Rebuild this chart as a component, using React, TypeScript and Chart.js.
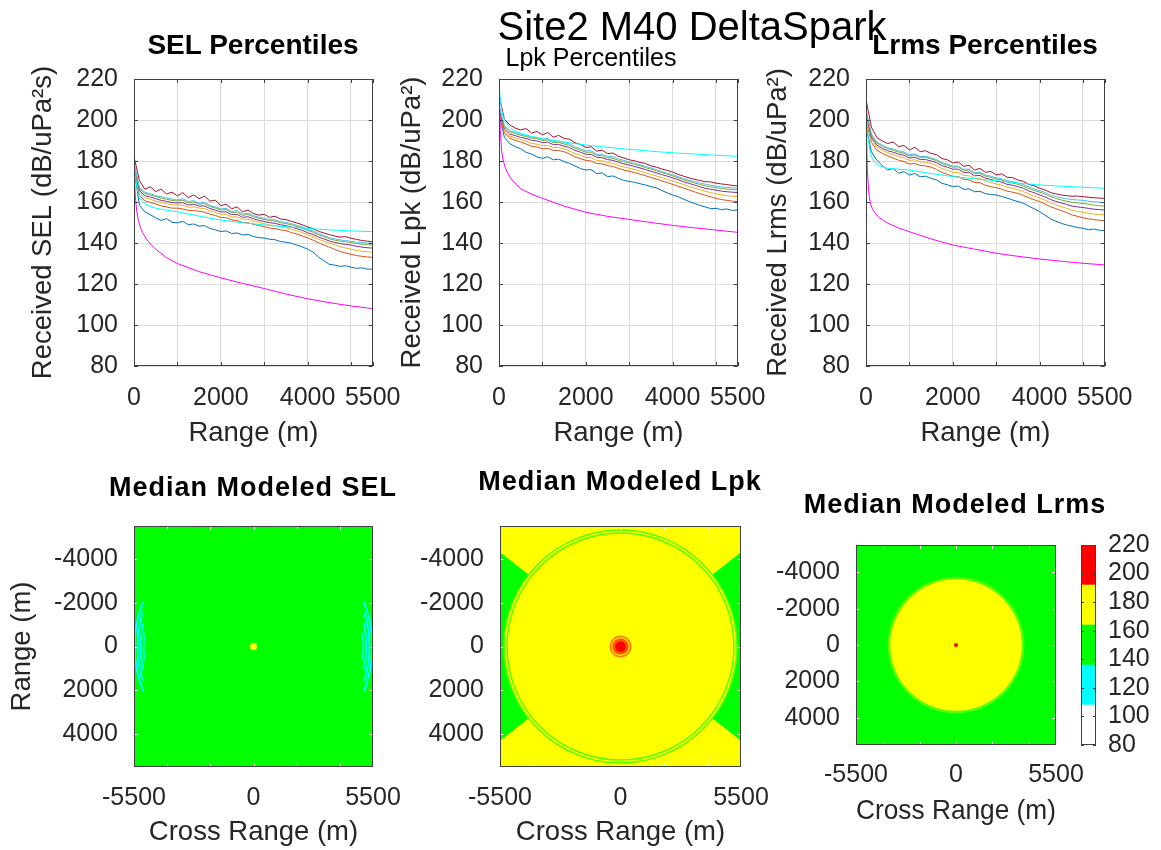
import React, { useEffect, useRef } from 'react';
import { Chart, registerables } from 'chart.js';

Chart.register(...registerables);

const FONT = "'Liberation Sans', Arial, Helvetica, sans-serif";
const TEXT = '#262626';
const GRID = '#dcdcdc';
const FRAME = '#404040';
Chart.defaults.font.family = FONT;

// ---------- shared axes ----------
const RANGE = [0, 125, 250, 375, 500, 625, 750, 875, 1000, 1125, 1250, 1375, 1500, 1625, 1750, 1875, 2000, 2125, 2250, 2375, 2500, 2625, 2750, 2875, 3000, 3125, 3250, 3375, 3500, 3625, 3750, 3875, 4000, 4125, 4250, 4375, 4500, 4625, 4750, 4875, 5000, 5125, 5250, 5375, 5500];
const MODEL_RANGE = [10, 30, 60, 100, 150, 200, 300, 400, 500, 750, 1000, 1500, 2000, 2500, 3000, 3500, 4000, 4500, 5000, 5500];
const RANGE_GRID_TICKS = [0, 1000, 2000, 3000, 4000, 5000, 5500];
const RANGE_TICK_LABELS = [0, 2000, 4000, 5500];
const LEVEL_TICKS = [80, 100, 120, 140, 160, 180, 200, 220];
const MAP_X_TICKS = [-5500, 0, 5500];
const MAP_Y_TICKS = [-4000, -2000, 0, 2000, 4000];
const MAP_MINOR_TICKS = [-4000, -2000, 0, 2000, 4000];

// ---------- SEL percentiles (lowest P1 to highest P7) ----------
const SEL_P1 = [176, 158.5, 155.2, 153.8, 152.3, 151.0, 151.9, 150.1, 149.8, 150.6, 148.9, 149.3, 148.2, 148.5, 147.1, 146.4, 145.6, 145.9, 144.6, 144.9, 143.9, 144.2, 143.2, 142.6, 142.4, 141.8, 141.6, 140.7, 140.4, 139.9, 139.0, 138.1, 137.0, 135.6, 133.2, 131.4, 129.6, 129.2, 128.6, 128.9, 128.2, 127.6, 127.9, 127.3, 127.2];
const SEL_P2 = [175, 163.1, 160.6, 159.8, 159.0, 158.1, 157.6, 157.0, 157.0, 156.6, 155.9, 155.8, 155.5, 155.0, 154.1, 153.4, 152.5, 152.3, 151.2, 151.0, 150.0, 149.9, 149.1, 148.5, 148.0, 147.3, 147.0, 146.4, 146.0, 145.1, 144.4, 143.5, 142.5, 141.4, 140.1, 139.0, 138.0, 136.9, 135.9, 135.1, 134.5, 133.9, 133.5, 133.2, 133.0];
const SEL_P3 = [176, 164.6, 162.1, 161.4, 160.5, 159.7, 159.2, 158.6, 158.5, 158.4, 157.4, 157.6, 157.0, 156.8, 155.7, 155.0, 154.0, 154.0, 152.7, 152.8, 151.5, 151.6, 150.7, 150.0, 149.5, 148.8, 148.5, 147.9, 147.5, 146.7, 146.0, 145.1, 144.0, 143.1, 141.8, 140.9, 140.0, 139.1, 138.2, 137.6, 137.0, 136.4, 136.0, 135.7, 135.5];
const SEL_P4 = [177, 165.6, 163.1, 162.5, 161.6, 160.8, 160.3, 159.7, 159.5, 159.7, 158.5, 158.9, 158.0, 158.1, 156.8, 156.1, 155.1, 155.2, 153.8, 154.0, 152.5, 152.8, 151.8, 151.0, 150.5, 149.9, 149.6, 148.9, 148.5, 147.8, 147.0, 146.2, 145.0, 144.2, 142.9, 142.0, 141.0, 140.3, 139.7, 139.3, 139.0, 138.4, 138.0, 137.7, 137.5];
const SEL_P5 = [178, 166.6, 164.2, 163.5, 162.6, 161.9, 161.3, 160.8, 160.5, 160.9, 159.6, 160.0, 159.0, 159.2, 157.8, 157.1, 156.1, 156.3, 154.8, 155.1, 153.5, 153.9, 152.8, 152.0, 151.5, 150.9, 150.7, 149.9, 149.5, 148.9, 148.0, 147.3, 146.1, 145.3, 144.0, 143.1, 142.1, 141.4, 140.9, 140.6, 140.2, 139.7, 139.4, 139.2, 139.0];
const SEL_P6 = [179, 167.2, 164.8, 164.0, 163.1, 162.5, 162.0, 161.4, 161.0, 161.6, 160.2, 160.7, 159.4, 159.9, 158.3, 157.6, 156.6, 156.9, 155.3, 155.8, 154.1, 154.5, 153.4, 152.6, 152.1, 151.5, 151.3, 150.4, 150.0, 149.5, 148.6, 147.9, 146.6, 145.9, 144.6, 143.7, 142.6, 142.1, 141.5, 141.2, 140.8, 140.4, 140.2, 140.0, 139.8];
const SEL_P7 = [182, 170.5, 166.2, 167.4, 165.1, 166.3, 163.9, 164.8, 163.0, 164.6, 162.1, 163.5, 161.6, 162.9, 160.4, 160.9, 158.2, 158.9, 156.7, 157.6, 155.2, 156.1, 154.4, 153.6, 154.0, 152.5, 153.1, 151.7, 151.4, 150.6, 149.8, 148.9, 147.8, 147.0, 145.7, 144.9, 144.1, 143.4, 142.9, 143.1, 142.3, 141.8, 141.2, 140.9, 140.6];
const SEL_MODEL_CYAN = [178, 173, 168, 164.5, 162, 160.3, 158.6, 157.6, 157, 156, 155.2, 153.1, 151.2, 149.9, 148.8, 147.9, 147.1, 146.4, 145.9, 145.5];
const SEL_MODEL_MAGENTA = [172, 163, 156, 151, 147.5, 145, 141.5, 139, 137, 132.8, 130, 126, 123, 120.3, 117.8, 115.1, 112.8, 110.9, 109.3, 108];

// ---------- Lpk percentiles ----------
const LPK_P1 = [203, 191.5, 188.4, 187.0, 186.0, 184.2, 183.4, 182.0, 181.3, 182.1, 180.6, 180.9, 179.7, 178.8, 177.6, 176.3, 175.6, 175.8, 173.9, 174.2, 172.4, 172.7, 171.6, 170.5, 170.0, 169.6, 168.9, 168.3, 167.5, 166.9, 165.6, 164.5, 163.4, 162.6, 161.4, 160.3, 159.3, 158.4, 157.6, 156.8, 156.9, 156.3, 156.6, 155.9, 156.1];
const LPK_P2 = [203, 193.6, 191.1, 190.1, 189.3, 188.3, 187.2, 186.8, 186.0, 186.1, 185.2, 185.1, 184.5, 183.4, 182.0, 181.2, 180.3, 180.0, 178.8, 178.6, 177.8, 177.3, 176.4, 175.6, 175.0, 174.3, 173.6, 172.8, 172.0, 171.2, 170.3, 169.5, 168.6, 167.7, 166.8, 165.9, 165.0, 164.1, 163.3, 162.5, 161.8, 161.2, 160.8, 160.4, 160.2];
const LPK_P3 = [204, 194.6, 192.1, 191.3, 190.5, 189.6, 188.6, 188.2, 187.5, 187.6, 186.6, 186.6, 186.0, 184.9, 183.6, 182.8, 181.8, 181.6, 180.3, 180.1, 179.3, 178.8, 177.9, 177.1, 176.5, 175.8, 175.1, 174.3, 173.5, 172.7, 171.9, 171.1, 170.3, 169.4, 168.5, 167.6, 166.8, 166.0, 165.2, 164.6, 164.0, 163.5, 163.1, 162.8, 162.6];
const LPK_P4 = [205, 195.6, 193.1, 192.4, 191.5, 191.0, 190.1, 189.8, 189.0, 189.2, 188.0, 188.0, 187.3, 186.5, 185.2, 184.3, 183.3, 183.2, 181.8, 181.6, 180.7, 180.3, 179.4, 178.6, 178.0, 177.3, 176.6, 175.8, 175.0, 174.2, 173.4, 172.6, 171.8, 170.9, 169.9, 169.1, 168.3, 167.5, 166.7, 166.2, 165.8, 165.3, 165.0, 164.8, 164.6];
const LPK_P5 = [206, 196.6, 194.2, 193.4, 192.5, 192.0, 191.1, 190.9, 190.0, 190.3, 189.0, 189.1, 188.3, 187.6, 186.2, 185.3, 184.3, 184.3, 182.7, 182.6, 181.6, 181.3, 180.3, 179.6, 179.0, 178.3, 177.6, 176.8, 176.0, 175.2, 174.4, 173.6, 172.8, 171.9, 170.9, 170.1, 169.3, 168.6, 167.9, 167.4, 167.0, 166.6, 166.3, 166.1, 165.9];
const LPK_P6 = [207, 197.2, 194.7, 194.0, 193.1, 192.6, 191.7, 191.5, 190.6, 190.9, 189.6, 189.8, 189.0, 188.3, 186.9, 186.0, 185.0, 185.0, 183.3, 183.4, 182.3, 182.1, 181.0, 180.3, 179.6, 178.9, 178.2, 177.4, 176.6, 175.8, 174.9, 174.1, 173.3, 172.4, 171.5, 170.7, 170.0, 169.3, 168.7, 168.2, 167.8, 167.4, 167.1, 166.9, 166.7];
const LPK_P7 = [212, 200.4, 197.6, 196.0, 195.2, 195.8, 193.6, 194.4, 192.8, 193.9, 191.6, 192.5, 191.0, 190.6, 188.9, 188.1, 186.6, 186.9, 184.8, 185.3, 183.6, 183.9, 182.3, 181.5, 180.6, 180.1, 179.3, 178.8, 177.6, 177.0, 176.1, 175.4, 174.6, 173.5, 172.6, 171.8, 171.1, 170.5, 169.9, 169.8, 169.2, 168.8, 168.5, 168.1, 167.8];
const LPK_MODEL_CYAN = [215, 210, 205, 201.5, 199, 197.5, 195.5, 194.3, 193.5, 192, 190.8, 189.2, 187.8, 186.7, 185.7, 184.8, 184, 183.4, 182.8, 182.3];
const LPK_MODEL_MAGENTA = [208, 195, 185, 180, 176.5, 174, 170.8, 168.5, 166.5, 163.8, 161.8, 158, 155, 153, 151.5, 150, 148.6, 147.4, 146.3, 145.2];

// ---------- Lrms percentiles ----------
const LRMS_P1 = [197, 184.5, 180.3, 177.8, 175.6, 176.4, 174.0, 174.8, 173.2, 173.9, 172.3, 172.6, 171.5, 170.8, 169.1, 168.4, 167.5, 167.8, 166.2, 166.4, 165.0, 165.2, 164.1, 163.6, 163.4, 162.7, 161.9, 161.0, 160.2, 159.4, 158.0, 156.7, 155.3, 153.6, 151.8, 150.6, 149.6, 148.8, 148.2, 147.5, 147.2, 146.5, 146.8, 146.2, 146.0];
const LRMS_P2 = [200, 189.1, 185.2, 183.7, 182.5, 181.4, 180.4, 179.7, 178.5, 178.8, 177.8, 177.6, 177.0, 175.9, 174.4, 173.5, 172.5, 172.4, 171.0, 170.8, 169.5, 169.4, 168.2, 167.5, 167.0, 166.3, 165.3, 164.8, 164.2, 163.2, 162.1, 161.1, 160.2, 159.0, 157.7, 156.7, 155.8, 154.8, 153.7, 153.0, 152.3, 151.8, 151.4, 151.1, 150.9];
const LRMS_P3 = [202, 190.6, 186.7, 185.2, 184.0, 183.1, 182.2, 181.5, 180.3, 180.6, 179.5, 179.4, 178.8, 177.8, 176.3, 175.5, 174.5, 174.4, 172.9, 172.8, 171.5, 171.5, 170.2, 169.5, 168.8, 168.2, 167.2, 166.7, 166.0, 165.1, 163.9, 162.9, 162.0, 160.9, 159.6, 158.6, 157.8, 156.9, 156.0, 155.4, 155.0, 154.5, 154.1, 153.9, 153.7];
const LRMS_P4 = [203, 191.6, 187.7, 186.2, 185.0, 184.3, 183.4, 182.8, 181.5, 181.8, 180.7, 180.7, 180.0, 179.2, 177.7, 177.0, 176.0, 176.0, 174.4, 174.5, 172.8, 173.0, 171.6, 171.0, 170.2, 169.7, 168.6, 168.2, 167.5, 166.7, 165.4, 164.5, 163.5, 162.5, 161.2, 160.3, 159.5, 158.8, 158.0, 157.6, 157.3, 156.9, 156.5, 156.3, 156.1];
const LRMS_P5 = [204, 192.6, 188.7, 187.2, 186.0, 185.3, 184.4, 183.8, 182.5, 182.9, 181.7, 181.8, 181.0, 180.2, 178.7, 178.0, 177.0, 177.1, 175.4, 175.6, 173.8, 174.1, 172.6, 172.0, 171.2, 170.8, 169.7, 169.3, 168.6, 167.8, 166.6, 165.7, 164.8, 163.9, 162.6, 161.7, 161.0, 160.4, 159.8, 159.5, 159.3, 158.9, 158.5, 158.2, 158.0];
const LRMS_P6 = [205, 193.2, 189.2, 187.8, 186.5, 185.9, 185.0, 184.4, 183.0, 183.5, 182.2, 182.3, 181.5, 180.7, 179.2, 178.5, 177.5, 177.6, 175.9, 176.1, 174.3, 174.6, 173.1, 172.6, 171.8, 171.4, 170.4, 170.0, 169.3, 168.5, 167.3, 166.4, 165.5, 164.7, 163.4, 162.6, 162.0, 161.6, 161.2, 161.0, 160.8, 160.4, 160.1, 159.9, 159.7];
const LRMS_P7 = [210, 196.5, 191.4, 189.8, 188.5, 189.3, 187.0, 187.6, 185.4, 186.7, 184.6, 185.0, 183.7, 183.1, 181.2, 180.6, 179.0, 179.5, 177.4, 177.9, 175.6, 176.4, 174.5, 174.9, 173.2, 173.7, 172.1, 171.9, 170.7, 170.1, 168.6, 167.9, 166.7, 165.9, 164.6, 164.0, 163.4, 163.1, 162.8, 162.9, 162.6, 162.3, 162.1, 161.9, 161.8];
const LRMS_MODEL_CYAN = [205, 196, 189, 184, 181, 179.3, 177.8, 177, 176.5, 176, 175.6, 173.9, 172.4, 171.3, 170.4, 169.3, 168.3, 167.7, 167.2, 166.7];
const LRMS_MODEL_MAGENTA = [195, 176, 165, 159.5, 156.5, 154.8, 152.5, 151, 149.7, 147.3, 145.5, 142, 139, 137, 135, 133.5, 132.2, 131.1, 130.1, 129.3];

// ---------- median modeled maps (levels in dB, radii in m) ----------
const SEL_MAP_BASE = 150;
const SEL_MAP_DISCS = [{ radius: 165, level: 182 }];
const SEL_MAP_ARCS = [
  { radius: 5470, halfAngle: 22, level: 128 },
  { radius: 5330, halfAngle: 17, level: 131 },
  { radius: 5190, halfAngle: 12, level: 133 },
  { radius: 5060, halfAngle: 7, level: 134 },
];
const LPK_MAP_BASE = 175;
const LPK_MAP_WEDGES = [{ inner: 5330, outer: 9000, halfAngle: 38, level: 150 }];
const LPK_MAP_RINGS = [{ radius: 5180, level: 163 }, { radius: 5320, level: 163 }];
const LPK_MAP_DISCS = [
  { radius: 500, level: 192 },
  { radius: 430, level: 190 },
  { radius: 370, level: 193 },
  { radius: 240, level: 206 },
];
const LRMS_MAP_BASE = 150;
const LRMS_MAP_DISCS = [
  { radius: 3760, level: 163 },
  { radius: 3620, level: 176 },
  { radius: 110, level: 206 },
];

// ---------- colour bar ----------
const COLORBAR_EDGES = [80, 108, 136, 164, 192, 220];
const COLORBAR_COLORS = ['#FFFFFF', '#00FFFF', '#00FF00', '#FFFF00', '#FF0000'];

const LINE_COLORS = ['#0072BD', '#D95319', '#EDB120', '#7E2F8E', '#77AC30', '#4DBEEE', '#A2142F'];
const CYAN = '#00FFFF';
const MAGENTA = '#FF00FF';

function hexToRgb(h: string) {
  const n = parseInt(h.slice(1), 16);
  return [(n >> 16) & 255, (n >> 8) & 255, n & 255];
}
function mix(a: string, b: string, t: number) {
  const A = hexToRgb(a), B = hexToRgb(b);
  const c = A.map((v, i) => Math.round(v + (B[i] - v) * t));
  return `rgb(${c[0]},${c[1]},${c[2]})`;
}
function levelColor(level: number) {
  for (let i = 1; i < COLORBAR_EDGES.length - 1; i++) {
    const e = COLORBAR_EDGES[i];
    if (Math.abs(level - e) < 3) return mix(COLORBAR_COLORS[i - 1], COLORBAR_COLORS[i], (level - e + 3) / 6);
  }
  for (let i = 0; i < COLORBAR_COLORS.length; i++) {
    if (level < COLORBAR_EDGES[i + 1]) return COLORBAR_COLORS[i];
  }
  return COLORBAR_COLORS[COLORBAR_COLORS.length - 1];
}

const pts = (xs: number[], ys: number[]) => xs.map((x, i) => ({ x, y: ys[i] }));

function makeFrame(xTicks: number[], yTicks: number[], tickColor: string, tickLen = 5) {
  return {
    id: 'frame',
    afterDatasetsDraw(chart: any) {
      const { ctx, chartArea: a, scales } = chart;
      ctx.save();
      ctx.lineWidth = 1;
      ctx.strokeStyle = tickColor;
      ctx.beginPath();
      if (scales.x && scales.x.options.display !== false) {
        xTicks.forEach((v) => {
          const p = Math.round(scales.x.getPixelForValue(v)) + 0.5;
          ctx.moveTo(p, a.bottom); ctx.lineTo(p, a.bottom - tickLen);
          ctx.moveTo(p, a.top); ctx.lineTo(p, a.top + tickLen);
        });
      }
      yTicks.forEach((v) => {
        const p = Math.round(scales.y.getPixelForValue(v)) + 0.5;
        ctx.moveTo(a.left, p); ctx.lineTo(a.left + tickLen, p);
        ctx.moveTo(a.right, p); ctx.lineTo(a.right - tickLen, p);
      });
      ctx.stroke();
      ctx.strokeStyle = FRAME;
      ctx.strokeRect(Math.round(a.left) + 0.5, Math.round(a.top) + 0.5, Math.round(a.right - a.left) - 1, Math.round(a.bottom - a.top) - 1);
      ctx.restore();
    },
  };
}

type Disc = { radius: number; level: number };
type Arc = { radius: number; halfAngle: number; level: number };
type Wedge = { inner: number; outer: number; halfAngle: number; level: number };

function makeMapPlugin(base: number, discs: Disc[], wedges: Wedge[], rings: Disc[], arcs: Arc[]) {
  return {
    id: 'modelMap',
    beforeDatasetsDraw(chart: any) {
      const { ctx, chartArea: a, scales: { x, y } } = chart;
      const cx = x.getPixelForValue(0);
      const cy = y.getPixelForValue(0);
      const rx = (r: number) => Math.abs(x.getPixelForValue(r) - cx);
      const ry = (r: number) => Math.abs(y.getPixelForValue(r) - cy);
      ctx.save();
      ctx.beginPath();
      ctx.rect(a.left, a.top, a.right - a.left, a.bottom - a.top);
      ctx.clip();
      ctx.fillStyle = levelColor(base);
      ctx.fillRect(a.left, a.top, a.right - a.left, a.bottom - a.top);
      for (const w of wedges) {
        for (const dir of [0, Math.PI]) {
          const h = (w.halfAngle * Math.PI) / 180;
          ctx.beginPath();
          ctx.ellipse(cx, cy, rx(w.inner), ry(w.inner), 0, dir - h, dir + h, false);
          ctx.ellipse(cx, cy, rx(w.outer), ry(w.outer), 0, dir + h, dir - h, true);
          ctx.closePath();
          ctx.fillStyle = levelColor(w.level);
          ctx.fill();
        }
      }
      for (const r of rings) {
        ctx.beginPath();
        ctx.ellipse(cx, cy, rx(r.radius), ry(r.radius), 0, 0, Math.PI * 2);
        ctx.strokeStyle = levelColor(r.level);
        ctx.lineWidth = 1.5;
        ctx.stroke();
      }
      for (const r of arcs) {
        for (const dir of [0, Math.PI]) {
          const h = (r.halfAngle * Math.PI) / 180;
          ctx.beginPath();
          ctx.ellipse(cx, cy, rx(r.radius), ry(r.radius), 0, dir - h, dir + h, false);
          ctx.strokeStyle = levelColor(r.level);
          ctx.lineWidth = 2;
          ctx.stroke();
        }
      }
      [...discs].sort((p, q) => q.radius - p.radius).forEach((d) => {
        ctx.beginPath();
        ctx.ellipse(cx, cy, Math.max(rx(d.radius), 1.5), Math.max(ry(d.radius), 1.5), 0, 0, Math.PI * 2);
        ctx.fillStyle = levelColor(d.level);
        ctx.fill();
      });
      ctx.restore();
    },
  };
}

const tickFont = { size: 25, lineHeight: 1 };
const titleFont = { size: 27.5, lineHeight: 1 };

function percentileConfig(lines: number[][], cyan: number[], magenta: number[], yTitle: string, yTitleCenter: number) {
  const datasets = [
    { data: pts(MODEL_RANGE, magenta), borderColor: MAGENTA },
    { data: pts(MODEL_RANGE, cyan), borderColor: CYAN },
    ...lines.map((l, i) => ({ data: pts(RANGE, l), borderColor: LINE_COLORS[i] })).reverse(),
  ].map((d) => ({ ...d, borderWidth: 1, pointRadius: 0, fill: false, tension: 0 }));
  return {
    type: 'line',
    data: { datasets },
    options: {
      animation: false,
      responsive: false,
      devicePixelRatio: 1,
      events: [],
      layout: { padding: { left: 0, right: 46, top: 79, bottom: 0 } },
      plugins: { legend: { display: false }, tooltip: { enabled: false }, title: { display: false } },
      scales: {
        x: {
          type: 'linear',
          min: 0,
          max: 5500,
          afterBuildTicks: (s: any) => { s.ticks = RANGE_GRID_TICKS.map((v) => ({ value: v })); },
          afterFit: (s: any) => { s.height = 94; },
          grid: { color: GRID, drawTicks: false, lineWidth: 1 },
          border: { display: false },
          ticks: {
            autoSkip: false, maxRotation: 0, padding: 19.5, color: TEXT, font: tickFont,
            callback: (v: number) => (RANGE_TICK_LABELS.includes(v) ? String(v) : ''),
          },
          title: { display: true, text: 'Range (m)', color: TEXT, font: titleFont, padding: { top: 0, bottom: 13 } },
        },
        y: {
          type: 'linear',
          min: 80,
          max: 220,
          afterBuildTicks: (s: any) => { s.ticks = LEVEL_TICKS.map((v) => ({ value: v })); },
          afterFit: (s: any) => { s.width = 134; },
          grid: { color: GRID, drawTicks: false, lineWidth: 1 },
          border: { display: false },
          ticks: { padding: 16, color: TEXT, font: tickFont, callback: (v: number) => String(v) },
          title: { display: true, text: yTitle, color: TEXT, font: titleFont, padding: { top: yTitleCenter - 13.75, bottom: 0 } },
        },
      },
    },
    plugins: [makeFrame(RANGE_GRID_TICKS, LEVEL_TICKS, FRAME, 4)],
  };
}

function mapConfig(
  plugin: any, padTop: number, padRight: number, xAxisH: number, xTickPad: number, xTitlePad: number, showYTitle: boolean,
) {
  return {
    type: 'scatter',
    data: { datasets: [] },
    options: {
      animation: false,
      responsive: false,
      devicePixelRatio: 1,
      events: [],
      layout: { padding: { left: 0, right: padRight, top: padTop, bottom: 0 } },
      plugins: { legend: { display: false }, tooltip: { enabled: false } },
      scales: {
        x: {
          type: 'linear',
          min: -5500,
          max: 5500,
          afterBuildTicks: (s: any) => { s.ticks = MAP_X_TICKS.map((v) => ({ value: v })); },
          afterFit: (s: any) => { s.height = xAxisH; },
          grid: { display: false, drawTicks: false },
          border: { display: false },
          ticks: { autoSkip: false, maxRotation: 0, padding: xTickPad, color: TEXT, font: tickFont, callback: (v: number) => String(v) },
          title: { display: true, text: 'Cross Range (m)', color: TEXT, font: titleFont, padding: { top: 0, bottom: xTitlePad } },
        },
        y: {
          type: 'linear',
          min: -5500,
          max: 5500,
          reverse: true,
          afterBuildTicks: (s: any) => { s.ticks = MAP_Y_TICKS.map((v) => ({ value: v })); },
          afterFit: (s: any) => { s.width = 134; },
          grid: { display: false, drawTicks: false },
          border: { display: false },
          ticks: { padding: 16, color: TEXT, font: tickFont, callback: (v: number) => String(v) },
          title: { display: showYTitle, text: 'Range (m)', color: TEXT, font: titleFont, padding: { top: 8.5, bottom: 0 } },
        },
      },
    },
    plugins: [plugin, makeFrame(MAP_MINOR_TICKS, MAP_MINOR_TICKS, '#f2f2f2', 4)],
  };
}

function colorbarConfig() {
  const datasets = COLORBAR_COLORS.map((c, i) => ({
    data: [[COLORBAR_EDGES[i], COLORBAR_EDGES[i + 1]]],
    backgroundColor: c,
    borderWidth: 0,
    barPercentage: 1,
    categoryPercentage: 1,
  }));
  return {
    type: 'bar',
    data: { labels: ['level'], datasets },
    options: {
      animation: false,
      responsive: false,
      devicePixelRatio: 1,
      events: [],
      layout: { padding: { left: 11, right: 0, top: 25, bottom: 26 } },
      plugins: { legend: { display: false }, tooltip: { enabled: false } },
      scales: {
        x: { stacked: true, display: false },
        y: {
          type: 'linear',
          position: 'right',
          min: 80,
          max: 220,
          afterBuildTicks: (s: any) => { s.ticks = LEVEL_TICKS.map((v) => ({ value: v })); },
          afterFit: (s: any) => { s.width = 65; },
          grid: { display: false, drawTicks: false },
          border: { display: false },
          ticks: { padding: 12, color: TEXT, font: tickFont, callback: (v: number) => String(v) },
        },
      },
    },
    plugins: [makeFrame([], LEVEL_TICKS, FRAME, 3)],
  };
}

const CHARTS = [
  { left: 0, top: 0, width: 420, height: 460, make: () => percentileConfig([SEL_P1, SEL_P2, SEL_P3, SEL_P4, SEL_P5, SEL_P6, SEL_P7], SEL_MODEL_CYAN, SEL_MODEL_MAGENTA, 'Received SEL (dB/uPa²s)', 43) },
  { left: 365, top: 0, width: 420, height: 460, make: () => percentileConfig([LPK_P1, LPK_P2, LPK_P3, LPK_P4, LPK_P5, LPK_P6, LPK_P7], LPK_MODEL_CYAN, LPK_MODEL_MAGENTA, 'Received Lpk (dB/uPa²)', 47) },
  { left: 732, top: 0, width: 420, height: 460, make: () => percentileConfig([LRMS_P1, LRMS_P2, LRMS_P3, LRMS_P4, LRMS_P5, LRMS_P6, LRMS_P7], LRMS_MODEL_CYAN, LRMS_MODEL_MAGENTA, 'Received Lrms (dB/uPa²)', 46) },
  { left: 0, top: 470, width: 420, height: 380, make: () => mapConfig(makeMapPlugin(SEL_MAP_BASE, SEL_MAP_DISCS, [], [], SEL_MAP_ARCS), 56, 47, 83, 18.5, 3.5, true) },
  { left: 366, top: 470, width: 422, height: 380, make: () => mapConfig(makeMapPlugin(LPK_MAP_BASE, LPK_MAP_DISCS, LPK_MAP_WEDGES, LPK_MAP_RINGS, []), 56, 47, 83, 18.5, 3.5, false) },
  { left: 722, top: 470, width: 386, height: 380, make: () => mapConfig(makeMapPlugin(LRMS_MAP_BASE, LRMS_MAP_DISCS, [], [], []), 75, 52, 105, 17.5, 24.5, false) },
  { left: 1070, top: 520, width: 91, height: 251, make: colorbarConfig },
];

const TITLES = [
  { text: 'Site2 M40 DeltaSpark', cx: 692, baseline: 40, size: 40, bold: false, spacing: 0 },
  { text: 'SEL Percentiles', cx: 253, baseline: 55, size: 28, bold: true, spacing: 0 },
  { text: 'Lpk Percentiles', cx: 591, baseline: 66, size: 25, bold: false, spacing: 0 },
  { text: 'Lrms Percentiles', cx: 985, baseline: 55, size: 28, bold: true, spacing: 0 },
  { text: 'Median Modeled SEL', cx: 253, baseline: 497, size: 27, bold: true, spacing: 1 },
  { text: 'Median Modeled Lpk', cx: 620, baseline: 491, size: 27, bold: true, spacing: 1 },
  { text: 'Median Modeled Lrms', cx: 955, baseline: 514, size: 27, bold: true, spacing: 1 },
];

function ChartCanvas({ left, top, width, height, make }: { left: number; top: number; width: number; height: number; make: () => any }) {
  const ref = useRef<HTMLCanvasElement | null>(null);
  useEffect(() => {
    if (!ref.current) return;
    const chart = new Chart(ref.current, make());
    return () => chart.destroy();
  }, [make]);
  return <canvas ref={ref} width={width} height={height} style={{ position: 'absolute', left, top, width, height, display: 'block' }} />;
}

export default function App() {
  return (
    <div style={{ position: 'fixed', left: 0, top: 0, width: 1161, height: 850, background: '#ffffff', overflow: 'hidden' }}>
      {CHARTS.map((c, i) => (
        <ChartCanvas key={i} {...c} />
      ))}
      {TITLES.map((t, i) => (
        <div
          key={'t' + i}
          style={{
            position: 'absolute',
            left: t.cx - 300,
            width: 600,
            top: t.baseline - 0.8465 * t.size,
            height: t.size,
            lineHeight: `${t.size}px`,
            fontSize: t.size,
            fontFamily: FONT,
            fontWeight: t.bold ? 700 : 400,
            letterSpacing: t.spacing,
            textAlign: 'center',
            color: '#000000',
            whiteSpace: 'nowrap',
            pointerEvents: 'none',
          }}
        >
          {t.text}
        </div>
      ))}
    </div>
  );
}
